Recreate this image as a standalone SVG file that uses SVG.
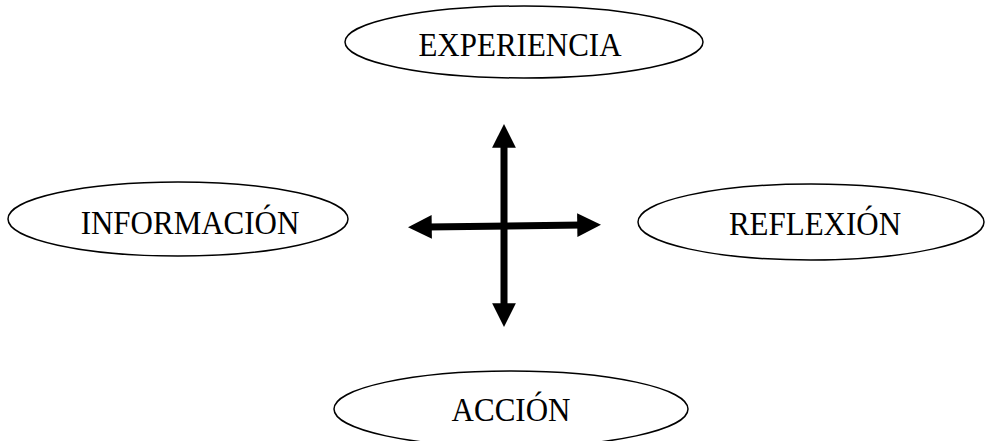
<svg xmlns="http://www.w3.org/2000/svg" width="985" height="441" viewBox="0 0 985 441">
  <style>
    .node ellipse { fill: #fff; stroke: #000; stroke-width: 1.5; }
    .node text { font-family: "Liberation Serif", "Times New Roman", serif; font-size: 31px; fill: #000; text-anchor: middle; }
    .arrow { stroke: #000; stroke-width: 7; fill: none; }
  </style>
  <defs>
    <marker id="head" viewBox="0 0 10 10" refX="2" refY="5" markerWidth="3.4" markerHeight="3.4" markerUnits="strokeWidth" orient="auto-start-reverse">
      <path d="M0,0 L10,5 L0,10 Z" fill="#000"/>
    </marker>
  </defs>
  <rect width="985" height="441" fill="#fff"/>

  <g id="experiencia" class="node">
    <ellipse cx="524" cy="42" rx="179" ry="36"/>
    <text transform="translate(520,56) scale(1,1.1)">EXPERIENCIA</text>
  </g>
  <g id="informacion" class="node">
    <ellipse cx="178" cy="219" rx="170" ry="37"/>
    <text transform="translate(190,234) scale(1,1.1)">INFORMACIÓN</text>
  </g>
  <g id="reflexion" class="node">
    <ellipse cx="811" cy="222" rx="173" ry="38"/>
    <text transform="translate(815,235) scale(1,1.1)">REFLEXIÓN</text>
  </g>
  <g id="accion" class="node">
    <ellipse cx="511" cy="409" rx="177" ry="38"/>
    <text transform="translate(511,421) scale(1,1.1)">ACCIÓN</text>
  </g>

  <g id="connectors">
    <line class="arrow" x1="504" y1="143" x2="504" y2="308" marker-start="url(#head)" marker-end="url(#head)"/>
    <line class="arrow" x1="427" y1="227" x2="582" y2="225" marker-start="url(#head)" marker-end="url(#head)"/>
  </g>
</svg>
